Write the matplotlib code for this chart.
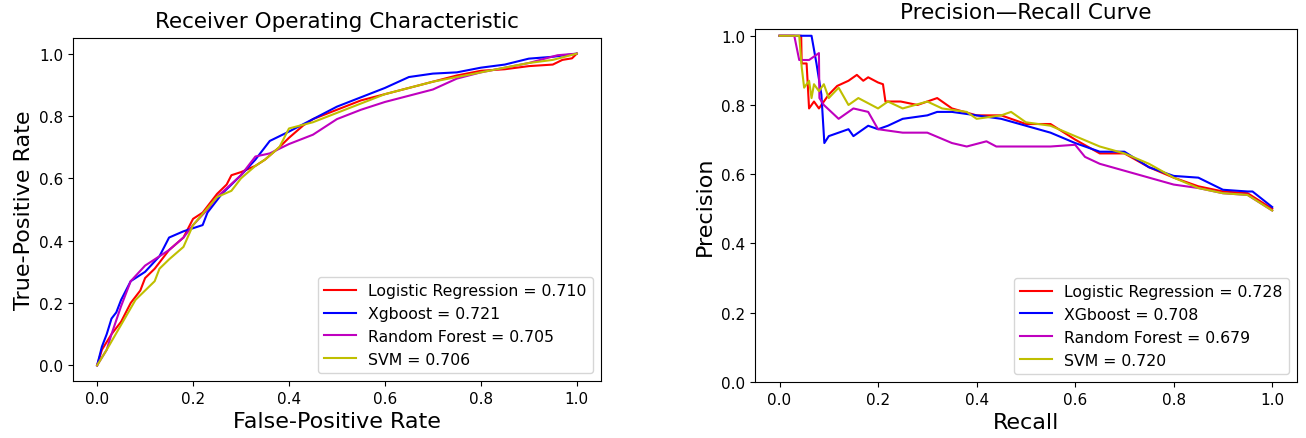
import matplotlib
matplotlib.use("Agg")
import matplotlib.pyplot as plt

# ROC curves (fpr, tpr)
lr_fpr = [0.0, 0.01, 0.03, 0.05, 0.07, 0.09, 0.1, 0.12, 0.15, 0.18, 0.2, 0.22, 0.25, 0.27, 0.28, 0.3, 0.33, 0.35, 0.38, 0.4, 0.43, 0.45, 0.5, 0.55, 0.6, 0.65, 0.7, 0.75, 0.8, 0.85, 0.9, 0.95, 0.97, 0.99, 1.0]
lr_tpr = [0.0, 0.05, 0.1, 0.14, 0.2, 0.24, 0.28, 0.31, 0.37, 0.41, 0.47, 0.49, 0.55, 0.58, 0.61, 0.62, 0.64, 0.66, 0.7, 0.73, 0.77, 0.79, 0.82, 0.85, 0.87, 0.89, 0.91, 0.93, 0.945, 0.95, 0.96, 0.965, 0.98, 0.985, 1.0]

xgb_fpr = [0.0, 0.01, 0.02, 0.03, 0.04, 0.05, 0.07, 0.1, 0.13, 0.15, 0.18, 0.2, 0.22, 0.23, 0.26, 0.3, 0.33, 0.36, 0.4, 0.45, 0.5, 0.55, 0.6, 0.65, 0.7, 0.75, 0.8, 0.85, 0.9, 0.95, 1.0]
xgb_tpr = [0.0, 0.06, 0.1, 0.15, 0.17, 0.21, 0.27, 0.3, 0.35, 0.41, 0.43, 0.44, 0.45, 0.49, 0.55, 0.61, 0.66, 0.72, 0.75, 0.79, 0.83, 0.86, 0.89, 0.925, 0.936, 0.94, 0.955, 0.965, 0.984, 0.99, 1.0]

rf_fpr = [0.0, 0.02, 0.03, 0.05, 0.07, 0.1, 0.12, 0.15, 0.18, 0.2, 0.23, 0.25, 0.3, 0.33, 0.36, 0.4, 0.45, 0.5, 0.55, 0.6, 0.65, 0.7, 0.75, 0.8, 0.85, 0.9, 0.96, 1.0]
rf_tpr = [0.0, 0.05, 0.1, 0.19, 0.27, 0.32, 0.34, 0.37, 0.41, 0.45, 0.5, 0.54, 0.61, 0.67, 0.68, 0.71, 0.74, 0.79, 0.82, 0.845, 0.865, 0.885, 0.92, 0.94, 0.955, 0.97, 0.995, 1.0]

svm_fpr = [0.0, 0.02, 0.05, 0.08, 0.1, 0.12, 0.13, 0.15, 0.18, 0.2, 0.25, 0.28, 0.3, 0.33, 0.35, 0.38, 0.4, 0.45, 0.5, 0.55, 0.6, 0.65, 0.7, 0.75, 0.8, 0.85, 0.9, 0.95, 1.0]
svm_tpr = [0.0, 0.05, 0.13, 0.21, 0.24, 0.27, 0.31, 0.34, 0.38, 0.45, 0.54, 0.56, 0.6, 0.64, 0.66, 0.7, 0.76, 0.78, 0.81, 0.84, 0.87, 0.89, 0.91, 0.925, 0.94, 0.955, 0.97, 0.98, 1.0]

# Precision-recall curves (recall, precision)
lr_rec = [0.0, 0.044, 0.045, 0.055, 0.06, 0.07, 0.08, 0.1, 0.117, 0.14, 0.157, 0.17, 0.18, 0.2, 0.21, 0.215, 0.246, 0.28, 0.32, 0.35, 0.4, 0.45, 0.5, 0.55, 0.6, 0.65, 0.7, 0.75, 0.8, 0.85, 0.9, 0.95, 1.0]
lr_prec = [1.0, 1.0, 0.92, 0.92, 0.79, 0.81, 0.79, 0.83, 0.855, 0.87, 0.887, 0.87, 0.88, 0.865, 0.86, 0.81, 0.81, 0.8, 0.82, 0.79, 0.77, 0.77, 0.745, 0.745, 0.7, 0.66, 0.66, 0.62, 0.59, 0.565, 0.55, 0.545, 0.5]

xgb_rec = [0.0, 0.065, 0.075, 0.085, 0.091, 0.1, 0.12, 0.14, 0.15, 0.18, 0.2, 0.22, 0.25, 0.3, 0.32, 0.35, 0.4, 0.45, 0.5, 0.55, 0.6, 0.65, 0.7, 0.75, 0.8, 0.85, 0.9, 0.95, 0.96, 1.0]
xgb_prec = [1.0, 1.0, 0.92, 0.83, 0.69, 0.71, 0.72, 0.73, 0.71, 0.74, 0.73, 0.74, 0.76, 0.77, 0.78, 0.78, 0.77, 0.76, 0.74, 0.72, 0.69, 0.665, 0.665, 0.62, 0.595, 0.59, 0.555, 0.55, 0.55, 0.505]

rf_rec = [0.0, 0.03, 0.04, 0.06, 0.08, 0.081, 0.09, 0.12, 0.15, 0.18, 0.2, 0.25, 0.3, 0.35, 0.38, 0.42, 0.44, 0.5, 0.55, 0.6, 0.62, 0.65, 0.7, 0.75, 0.8, 0.85, 0.9, 0.95, 1.0]
rf_prec = [1.0, 1.0, 0.93, 0.93, 0.95, 0.82, 0.8, 0.76, 0.79, 0.78, 0.73, 0.72, 0.72, 0.69, 0.68, 0.695, 0.68, 0.68, 0.68, 0.685, 0.65, 0.63, 0.61, 0.59, 0.57, 0.56, 0.545, 0.54, 0.495]

svm_rec = [0.0, 0.04, 0.045, 0.05, 0.06, 0.065, 0.07, 0.08, 0.09, 0.1, 0.12, 0.14, 0.16, 0.2, 0.22, 0.25, 0.3, 0.33, 0.38, 0.4, 0.45, 0.47, 0.5, 0.55, 0.6, 0.65, 0.7, 0.75, 0.8, 0.85, 0.9, 0.95, 1.0]
svm_prec = [1.0, 1.0, 0.91, 0.85, 0.87, 0.82, 0.86, 0.84, 0.86, 0.82, 0.85, 0.8, 0.82, 0.79, 0.81, 0.79, 0.81, 0.79, 0.78, 0.76, 0.77, 0.78, 0.75, 0.74, 0.71, 0.68, 0.66, 0.63, 0.59, 0.56, 0.545, 0.54, 0.495]

roc_labels = ["Logistic Regression = 0.710", "Xgboost = 0.721", "Random Forest = 0.705", "SVM = 0.706"]
pr_labels = ["Logistic Regression = 0.728", "XGboost = 0.708", "Random Forest = 0.679", "SVM = 0.720"]
colors = ["r", "b", "m", "y"]

fig = plt.figure(figsize=(13.06, 4.39), dpi=100)

# ROC
ax1 = fig.add_axes([0.056, 0.130, 0.404, 0.781])
roc = [(lr_fpr, lr_tpr), (xgb_fpr, xgb_tpr), (rf_fpr, rf_tpr), (svm_fpr, svm_tpr)]
for (x, y), c, lab in zip(roc, colors, roc_labels):
    ax1.plot(x, y, color=c, lw=1.5, label=lab)
ax1.set_title("Receiver Operating Characteristic", fontsize=15.5, pad=8)
ax1.set_xlabel("False-Positive Rate", fontsize=16)
ax1.set_ylabel("True-Positive Rate", fontsize=16)
ax1.tick_params(labelsize=11)
ax1.legend(loc="lower right", fontsize=11.3)

# Precision-Recall
ax2 = fig.add_axes([0.578, 0.128, 0.415, 0.804])
pr = [(lr_rec, lr_prec), (xgb_rec, xgb_prec), (rf_rec, rf_prec), (svm_rec, svm_prec)]
for (x, y), c, lab in zip(pr, colors, pr_labels):
    ax2.plot(x, y, color=c, lw=1.5, label=lab)
ax2.set_ylim(0, 1.02)
ax2.set_title("Precision\u2014Recall Curve", fontsize=15.5, pad=8)
ax2.set_xlabel("Recall", fontsize=16)
ax2.set_ylabel("Precision", fontsize=16)
ax2.tick_params(labelsize=11)
ax2.legend(loc="lower right", fontsize=11.3)

fig.savefig("out.png", dpi=100)
